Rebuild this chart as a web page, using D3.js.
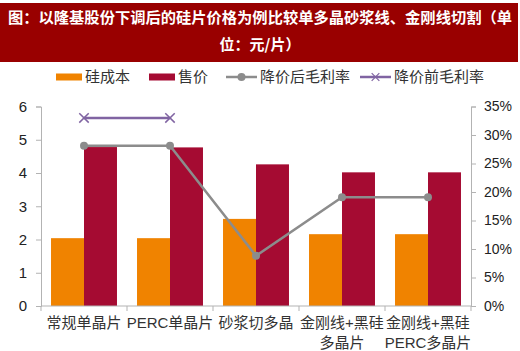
<!DOCTYPE html>
<html>
<head>
<meta charset="utf-8">
<script src="https://cdn.jsdelivr.net/npm/d3@7"></script>
<style>
  body { margin: 0; background: #fff; }
  svg { display: block; }
</style>
</head>
<body>
<div id="chart"></div>
<script>
const categories = [['常规单晶片'], ['PERC单晶片'], ['砂浆切多晶'], ['金刚线+黑硅', '多晶片'], ['金刚线+黑硅', 'PERC多晶片']];
const costValues = [2.04, 2.04, 2.62, 2.16, 2.16];
const priceValues = [4.78, 4.77, 4.26, 4.02, 4.02];
const marginAfter = [0.281, 0.281, 0.088, 0.191, 0.191];
const marginBefore = [0.33, 0.33, null, null, null];
const leftTicks = [0, 1, 2, 3, 4, 5, 6];
const rightTicks = [0, 0.05, 0.10, 0.15, 0.20, 0.25, 0.30, 0.35];
const titleLines = ['图：以隆基股份下调后的硅片价格为例比较单多晶砂浆线、金刚线切割（单', '位：元/片）'];

const W = 520, H = 351;
const ORANGE = '#f08300', CRIMSON = '#a50b32', GREY = '#8c8c8c', PURPLE = '#8064a2', AXIS = '#b3b3b3';
const plot = { left: 41, right: 471, top: 106.5, bottom: 306 };

const svg = d3.select('#chart').append('svg')
  .attr('width', W)
  .attr('height', H)
  .attr('font-family', '"Liberation Sans", Arial, "Noto Sans CJK SC", sans-serif');

// title banner
svg.append('rect')
  .attr('x', 0).attr('y', 3)
  .attr('width', 518).attr('height', 59)
  .attr('fill', '#990000');
svg.append('text')
  .attr('x', 8).attr('y', 23)
  .attr('fill', '#fff')
  .attr('font-size', 15)
  .attr('font-weight', 'bold')
  .attr('font-family', '"Noto Sans CJK SC", sans-serif')
  .attr('textLength', 504)
  .attr('lengthAdjust', 'spacingAndGlyphs')
  .text(titleLines[0]);
svg.append('text')
  .attr('x', W / 2).attr('y', 50)
  .attr('fill', '#fff')
  .attr('font-size', 15)
  .attr('font-weight', 'bold')
  .attr('text-anchor', 'middle')
  .attr('font-family', '"Noto Sans CJK SC", sans-serif')
  .text(titleLines[1]);

const catKeys = categories.map(c => c.join(''));
const x = d3.scaleBand()
  .domain(catKeys)
  .range([plot.left, plot.right])
  .paddingInner(0.233)
  .paddingOuter(0.1165);
const xSub = d3.scaleBand()
  .domain(['cost', 'price'])
  .range([0, x.bandwidth()]);
const y = d3.scaleLinear().domain([0, 6]).range([plot.bottom, plot.top]);
const y2 = d3.scaleLinear().domain([0, 0.35]).range([plot.bottom, plot.top]);

// bars
const groups = svg.append('g').selectAll('g')
  .data(catKeys)
  .join('g')
  .attr('transform', d => `translate(${x(d)},0)`);
groups.append('rect')
  .attr('x', xSub('cost'))
  .attr('y', (d, i) => y(costValues[i]))
  .attr('width', xSub.bandwidth())
  .attr('height', (d, i) => y(0) - y(costValues[i]))
  .attr('fill', ORANGE);
groups.append('rect')
  .attr('x', xSub('price'))
  .attr('y', (d, i) => y(priceValues[i]))
  .attr('width', xSub.bandwidth())
  .attr('height', (d, i) => y(0) - y(priceValues[i]))
  .attr('fill', CRIMSON);

// left axis
const leftAxis = svg.append('g')
  .attr('transform', `translate(${plot.left},0)`)
  .call(d3.axisLeft(y).tickValues(leftTicks).tickSize(5).tickPadding(9).tickFormat(d3.format('d')));
leftAxis.selectAll('text').attr('font-size', 15).attr('fill', '#222');

// right axis
const rightAxis = svg.append('g')
  .attr('transform', `translate(${plot.right},0)`)
  .call(d3.axisRight(y2).tickValues(rightTicks).tickSize(5).tickPadding(8).tickFormat(d3.format('.0%')));
rightAxis.selectAll('text').attr('font-size', 14).attr('fill', '#222');

// bottom axis with ticks at band boundaries
const step = x.step();
const boundaries = d3.range(catKeys.length + 1).map(i => x(catKeys[0]) - (step - x.bandwidth()) / 2 + i * step);
const bottom = svg.append('g');
bottom.append('line')
  .attr('x1', plot.left).attr('x2', plot.right)
  .attr('y1', plot.bottom).attr('y2', plot.bottom)
  .attr('stroke', AXIS);
bottom.selectAll('line.tick')
  .data(boundaries)
  .join('line')
  .attr('class', 'tick')
  .attr('x1', d => d).attr('x2', d => d)
  .attr('y1', plot.bottom).attr('y2', plot.bottom + 5)
  .attr('stroke', AXIS);
bottom.selectAll('text')
  .data(categories)
  .join('text')
  .attr('x', (d, i) => x(catKeys[i]) + x.bandwidth() / 2)
  .attr('y', 328)
  .attr('text-anchor', 'middle')
  .attr('font-size', 15)
  .attr('fill', '#333')
  .selectAll('tspan')
  .data(d => d)
  .join('tspan')
  .attr('x', function () { return this.parentNode.getAttribute('x'); })
  .attr('dy', (d, i) => i === 0 ? 0 : 20)
  .text(d => d);

svg.selectAll('.domain, .tick line').attr('stroke', AXIS);

// lines
const cx = i => x(catKeys[i]) + x.bandwidth() / 2;
const lineGen = d3.line()
  .defined(d => d.v != null)
  .x(d => cx(d.i))
  .y(d => y2(d.v));

svg.append('path')
  .datum(marginBefore.map((v, i) => ({ v, i })))
  .attr('d', lineGen)
  .attr('fill', 'none')
  .attr('stroke', PURPLE)
  .attr('stroke-width', 2.5);
const crosses = marginBefore.map((v, i) => ({ v, i })).filter(d => d.v != null);
svg.append('g').selectAll('path')
  .data(crosses)
  .join('path')
  .attr('transform', d => `translate(${cx(d.i)},${y2(d.v)})`)
  .attr('d', d3.symbol(d3.symbolX, 60))
  .attr('fill', 'none')
  .attr('stroke', PURPLE)
  .attr('stroke-width', 1.5);

svg.append('path')
  .datum(marginAfter.map((v, i) => ({ v, i })))
  .attr('d', lineGen)
  .attr('fill', 'none')
  .attr('stroke', GREY)
  .attr('stroke-width', 2.5);
svg.append('g').selectAll('circle')
  .data(marginAfter)
  .join('circle')
  .attr('cx', (d, i) => cx(i))
  .attr('cy', d => y2(d))
  .attr('r', 4)
  .attr('fill', GREY);

// legend
const legendY = 77;
const legend = svg.append('g').attr('font-size', 15).attr('fill', '#333');
const legendItems = [
  { label: '硅成本', type: 'bar', color: ORANGE, x: 56 },
  { label: '售价', type: 'bar', color: CRIMSON, x: 149 },
  { label: '降价后毛利率', type: 'dot', color: GREY, x: 226 },
  { label: '降价前毛利率', type: 'cross', color: PURPLE, x: 360 }
];
legendItems.forEach(item => {
  const g = legend.append('g').attr('transform', `translate(${item.x},${legendY})`);
  if (item.type === 'bar') {
    g.append('rect').attr('x', 0).attr('y', -3.5).attr('width', 26).attr('height', 7).attr('fill', item.color);
  } else {
    g.append('line').attr('x1', 0).attr('x2', 31).attr('y1', 0).attr('y2', 0)
      .attr('stroke', item.color).attr('stroke-width', 2.5);
    if (item.type === 'dot') {
      g.append('circle').attr('cx', 15.5).attr('cy', 0).attr('r', 4).attr('fill', item.color);
    } else {
      g.append('path').attr('transform', 'translate(15.5,0)')
        .attr('d', d3.symbol(d3.symbolX, 40)).attr('fill', 'none')
        .attr('stroke', item.color).attr('stroke-width', 1.2);
    }
  }
  g.append('text')
    .attr('x', item.type === 'bar' ? 29 : 34)
    .attr('y', 0)
    .attr('dy', '0.35em')
    .text(item.label);
});
</script>
</body>
</html>
